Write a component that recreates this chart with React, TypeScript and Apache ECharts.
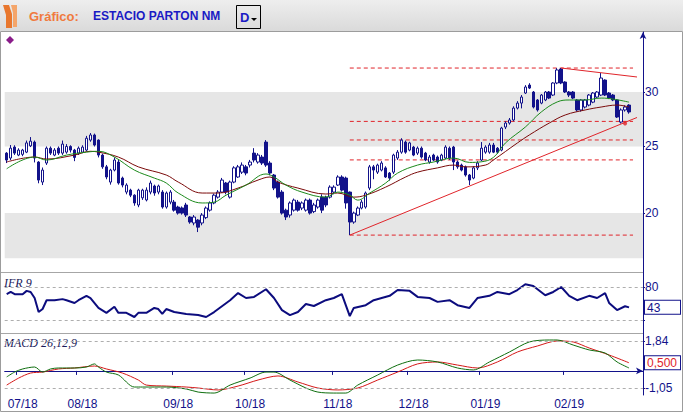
import React, { useEffect, useRef } from "react";
import * as echarts from "echarts";

// ---------- data ----------
const OPEN = [24.45,24.05,24.95,24.29,24.35,24.53,25.05,25.37,23.73,22.19,23.65,24.86,24.29,24.86,24.45,24.53,25.0,24.7,24.45,24.53,24.7,25.54,25.98,25.54,24.29,23.35,22.19,23.1,23.73,22.49,21.46,21.6,21.24,20.55,21.05,20.9,21.46,21.9,21.46,21.46,20.41,20.75,20.75,20.41,20.35,20.55,19.74,19.35,19.54,19.35,19.7,20.2,20.69,21.1,21.46,22.12,21.1,22.19,22.57,22.94,23.35,23.49,24.45,23.73,24.13,25.37,23.65,22.72,22.19,21.46,20.2,19.87,20.2,20.75,20.34,20.2,20.89,20.1,20.41,21.1,21.1,21.1,21.46,21.97,22.57,22.49,21.46,19.41,19.87,20.34,20.41,21.75,23.35,22.94,23.1,23.27,22.87,22.94,24.05,24.53,25.37,24.7,24.95,24.45,24.86,24.45,23.73,24.29,24.13,23.89,24.05,24.86,24.95,23.73,23.49,23.35,22.72,22.49,23.27,23.89,24.53,24.53,25.12,24.86,24.7,26.68,27.04,27.32,28.43,28.91,29.9,30.71,30.0,29.21,28.91,29.21,30.0,29.7,30.92,32.4,31.02,30.0,30.0,29.21,28.25,28.53,28.72,29.0,29.5,29.7,31.23,29.9,29.7,29.21,27.13,28.25,28.72];
const CLOSE = [23.89,24.86,24.45,24.7,24.7,25.3,25.45,24.05,22.34,23.1,24.86,24.45,24.7,24.45,25.2,25.0,24.7,24.1,24.86,24.95,25.7,25.98,25.12,24.29,23.35,22.57,23.1,23.89,22.12,21.97,21.97,21.24,20.69,21.6,21.6,21.6,22.12,21.39,21.9,20.41,21.39,21.46,20.2,20.0,20.0,19.87,19.41,19.74,19.08,19.87,20.34,20.69,21.24,21.46,22.34,21.46,22.19,23.27,23.35,23.49,22.87,23.73,23.89,24.29,23.65,23.49,22.87,21.75,21.1,20.0,19.74,20.69,20.89,20.2,20.69,20.89,20.0,20.55,20.89,20.2,20.55,21.82,21.82,22.57,21.6,20.69,19.41,20.0,20.34,20.75,21.39,23.35,23.1,23.49,23.65,22.57,22.49,24.29,24.53,25.54,24.53,25.3,24.29,24.86,24.13,23.89,24.13,23.89,23.73,24.29,24.95,24.05,23.73,23.35,23.1,22.72,22.34,23.27,23.65,24.86,24.95,25.12,24.53,24.53,26.59,27.04,27.32,28.43,28.91,29.5,30.51,30.4,28.53,28.25,29.7,30.0,29.4,30.92,32.3,30.92,30.0,29.7,29.4,28.25,29.21,29.21,29.7,29.9,30.0,31.44,29.7,29.4,29.21,27.59,28.25,28.53,28.06];
const HIGH = [24.53,25.12,25.1,24.85,24.8,25.5,25.8,25.5,23.8,23.3,25.0,25.0,24.86,25.0,25.5,25.2,25.1,24.8,25.0,25.1,25.9,26.15,26.1,25.6,24.4,23.5,23.2,24.1,23.9,22.6,22.1,21.7,21.3,21.7,21.7,21.8,22.3,22.0,22.0,21.6,21.5,21.6,20.9,20.5,20.45,20.7,19.8,19.87,19.6,20.0,20.45,20.8,21.35,21.6,22.5,22.2,22.3,23.4,23.5,23.7,23.5,23.9,24.86,24.45,24.3,25.54,23.8,22.8,22.3,21.6,20.3,20.8,21.0,20.9,20.8,21.0,21.0,20.7,21.0,21.3,21.2,21.95,21.95,22.7,22.7,22.6,21.5,20.1,20.45,20.9,21.5,23.5,23.5,23.6,23.8,23.4,22.95,24.4,24.7,25.7,25.5,25.4,25.05,25.0,25.0,24.55,24.3,24.4,24.25,24.4,25.1,25.0,25.05,23.85,23.6,23.45,22.8,23.4,23.8,25.37,25.1,25.3,25.3,24.95,26.7,27.2,27.5,28.6,29.1,29.7,30.7,30.9,30.1,29.3,29.8,30.1,30.1,31.0,32.5,32.51,31.1,30.1,30.1,29.3,29.3,29.3,29.8,30.0,30.1,31.97,31.3,30.0,29.8,29.3,28.4,28.7,28.8];
const LOW = [23.65,23.89,24.3,24.2,24.2,24.45,24.95,23.7,22.1,21.97,23.5,24.3,24.2,24.3,24.3,24.4,24.5,23.8,24.3,24.45,24.6,25.4,25.0,24.1,23.2,22.4,22.0,23.0,22.0,21.8,21.3,21.1,20.5,20.4,20.9,20.8,21.3,21.2,21.3,20.3,20.3,20.6,20.1,19.9,19.9,19.74,19.3,19.2,18.77,19.2,19.6,20.1,20.6,21.0,21.4,21.3,21.0,22.1,22.5,22.8,22.7,23.3,23.7,23.6,23.5,23.35,22.7,21.6,21.0,19.9,19.54,19.7,20.1,20.1,20.2,20.1,19.9,20.0,20.3,20.0,20.4,21.0,21.3,21.9,21.5,20.3,18.58,19.3,19.8,20.25,20.3,21.6,22.4,22.8,23.0,22.5,22.3,22.8,23.9,24.4,24.4,24.6,24.2,24.3,24.0,23.8,23.6,23.8,23.6,23.8,23.95,23.9,23.1,23.2,23.0,22.6,21.97,22.4,23.1,23.8,24.4,24.4,24.45,24.4,24.6,26.5,26.9,27.2,28.3,28.4,29.8,30.3,28.4,28.1,28.8,29.1,29.3,29.6,30.8,30.8,29.9,29.5,29.3,28.1,28.1,28.4,28.6,28.9,29.4,29.6,29.6,29.3,29.1,27.5,27.0,28.1,27.9];

const MA_FAST: [number, number][] = [[0,23.2],[7,24.13],[10,23.89],[15,24.29],[20,24.53],[23,24.6],[27,24.13],[32,23.1],[37,22.49],[40,22.12],[43,21.39],[49,20.69],[52,20.75],[55,21.24],[60,21.97],[65,22.8],[67,22.57],[70,21.97],[74,21.46],[80,21.1],[83,21.46],[86,21.24],[88,20.89],[91,21.39],[95,22.12],[98,22.87],[103,23.49],[107,23.73],[112,24.05],[116,23.7],[119,23.75],[122,24.1],[125,25.29],[130,26.68],[134,28.06],[138,29.02],[141,29.21],[145,29.21],[149,29.4],[152,29.3],[156,29.0]];
const MA_SLOW: [number, number][] = [[0,23.73],[7,24.13],[10,23.97],[17,24.29],[21,24.6],[23,24.53],[28,24.13],[33,23.35],[40,22.72],[43,22.19],[49,21.39],[53,21.39],[58,21.75],[63,22.34],[66,22.57],[68,22.19],[73,21.75],[80,21.32],[83,21.39],[87,21.1],[90,21.24],[95,21.82],[100,22.57],[103,22.94],[108,23.27],[112,23.49],[115,23.35],[120,23.49],[122,23.89],[128,25.29],[131,25.98],[136,27.04],[140,27.78],[145,28.25],[149,28.53],[153,28.72],[156,28.53]];

const IFR: [number, number][] = [[0,67],[1,71],[2,67],[4,67],[5,73],[6,71],[7,60],[8,34.5],[9,40],[10,56],[12,56],[14,58],[15,56],[17,51],[18,56],[20,64],[21,60],[23,42],[25,33],[27,44],[28,33],[30,33],[32,25.5],[33,33],[35,33],[37,42],[38,40],[39,31],[40,40],[42,34.5],[45,31],[48,29],[50,25.5],[52,34.5],[56,56],[58,69],[60,60],[62,62],[65,76],[67,60],[69,38],[71,29],[73,34.5],[75,49],[77,45.5],[80,56],[82,60],[84,67],[86,27],[87,42],[90,47],[92,56],[96,64],[98,74.5],[101,73],[103,62],[106,60],[108,53],[111,56],[113,47],[116,42],[118,60],[121,64],[123,71],[126,67],[128,74.5],[130,85],[132,82],[135,65],[137,71],[139,80],[141,64],[143,56],[146,64],[148,60],[150,69],[151,51],[153,38],[155,45],[156,43]];

const MACD_LINE: [number, number][] = [[0,-0.37],[2,-0.07],[4,0.12],[7,0.24],[9,-0.07],[11,0.12],[13,0.18],[17,0.18],[20,0.24],[22,0.43],[23,0.24],[25,-0.07],[28,-0.25],[32,-0.99],[34,-0.99],[40,-0.99],[45,-1.11],[48,-1.3],[52,-1.36],[56,-0.87],[61,-0.44],[65,-0.07],[67,-0.07],[71,-0.56],[75,-1.05],[78,-1.3],[82,-1.36],[85,-1.36],[88,-0.87],[93,-0.25],[98,0.36],[103,0.67],[108,0.55],[113,0.18],[117,0.06],[121,0.55],[126,1.16],[131,1.78],[136,1.9],[138,1.9],[142,1.59],[146,1.29],[150,1.1],[153,0.55],[156,0.18]];
const MACD_SIGNAL: [number, number][] = [[0,-0.87],[3,-0.44],[6,-0.13],[9,-0.07],[13,0.12],[17,0.18],[22,0.3],[25,0.12],[29,-0.13],[33,-0.56],[35,-0.87],[40,-0.93],[45,-0.99],[48,-1.05],[53,-1.17],[58,-0.93],[63,-0.56],[68,-0.31],[73,-0.68],[78,-1.05],[83,-1.17],[88,-1.05],[93,-0.56],[98,-0.07],[103,0.43],[108,0.55],[113,0.36],[118,0.18],[123,0.55],[128,1.16],[133,1.53],[138,1.84],[142,1.78],[146,1.41],[151,0.98],[156,0.5]];

const FIB_LEVELS = [32.51, 27.19, 25.55, 23.9, 18.58];
const FIB_RANGE = [86, 157];
const SUPPORT_LINE: [number, number][] = [[86, 18.58], [158, 27.55]];
const RESIST_LINE: [number, number][] = [[139, 32.51], [158, 31.55]];
const TOUCH_POINTS: [number, number][] = [[155, 27.0]];

const PRICE_TICKS = [20, 25, 30];
const PRICE_BANDS: [number, number][] = [[17.2, 20], [25, 30]];
const PRICE_RANGE = [16.42, 36.68];
const IFR_LEVELS = [20, 80];
const IFR_RANGE = [-3.6, 107.3];
const MACD_LEVELS = [1.84, -1.05];
const MACD_RANGE = [-1.48, 2.33];

const CATEGORY_COUNT = 160;
const MONTH_TICKS = [3, 18, 42, 60, 82, 101, 119, 140];
const MONTH_LABELS = ["07/18", "08/18", "09/18", "10/18", "11/18", "12/18", "01/19", "02/19"];

// ---------- styling ----------
const NAVY = "#12128A";
const RED = "#E0242A";
const GREEN = "#1C8A1C";
const MAROON = "#7A0A0A";
const FONT = "Liberation Sans, Arial, sans-serif";

const lg = (v: number) => Math.log10(v);
const fmtComma = (v: number, d: number) => v.toFixed(d).replace(".", ",");

function buildOption() {
  const cats = Array.from({ length: CATEGORY_COUNT }, (_, i) => String(i));
  const candle = OPEN.map((o, i) => [lg(o), lg(CLOSE[i]), lg(LOW[i]), lg(HIGH[i])]);
  const logPairs = (a: [number, number][]) => a.map(([i, v]) => [i, lg(v)]);
  const tickSet = new Set(MONTH_TICKS);
  const labelMap = new Map(MONTH_TICKS.map((t, k) => [t + 1, MONTH_LABELS[k]]));
  const ifrLast = IFR[IFR.length - 1][1];
  const sigLast = MACD_SIGNAL[MACD_SIGNAL.length - 1][1];

  const grids = [
    { left: 4.7, right: 40, top: 32, height: 240 },
    { left: 4.7, right: 40, top: 272, height: 61 },
    { left: 4.7, right: 40, top: 333, height: 62 },
  ].map((g) => ({ ...g, containLabel: false, outerBoundsMode: "none" }));

  const hiddenX = (gi: number) => ({
    type: "category", gridIndex: gi, data: cats, boundaryGap: true,
    axisLine: { show: false }, axisTick: { show: false }, axisLabel: { show: false }, splitLine: { show: false },
  });

  const refLines = (vals: number[]) => ({
    silent: true, symbol: ["none", "none"], label: { show: false },
    lineStyle: { type: [3, 3], color: "#AEAEAE", width: 1 },
    data: vals.map((v) => ({ yAxis: v })),
  });

  const plainLine = (data: any[], x: number, color: string, width: number, extra: any = {}) => ({
    type: "line", xAxisIndex: x, yAxisIndex: x, data, symbol: "none", showSymbol: false,
    lineStyle: { color, width }, silent: true, ...extra,
  });

  return {
    animation: false,
    backgroundColor: "#FFFFFF",
    grid: grids,
    xAxis: [
      hiddenX(0),
      hiddenX(1),
      {
        type: "category", gridIndex: 2, data: cats, boundaryGap: true,
        axisLine: { show: true, lineStyle: { color: NAVY, width: 1 }, symbol: ["none", "arrow"], symbolSize: [5, 7] },
        axisTick: { show: true, interval: (i: number) => tickSet.has(i), length: 4, lineStyle: { color: NAVY } },
        axisLabel: {
          show: true, interval: (i: number) => labelMap.has(i), formatter: (_v: string, i: number) => labelMap.get(i) || "",
          color: NAVY, fontSize: 12, fontFamily: FONT, margin: 3,
        },
        splitLine: { show: false },
      },
    ],
    yAxis: [
      {
        type: "value", gridIndex: 0, position: "right", min: lg(PRICE_RANGE[0]), max: lg(PRICE_RANGE[1]),
        axisLine: { show: true, lineStyle: { color: NAVY }, symbol: ["none", "arrow"], symbolSize: [5, 7] },
        axisTick: { show: true, customValues: PRICE_TICKS.map(lg), length: 2, lineStyle: { color: NAVY } },
        axisLabel: { show: true, customValues: PRICE_TICKS.map(lg), formatter: (v: number) => String(Math.round(Math.pow(10, v))), color: NAVY, fontSize: 12, fontFamily: FONT, margin: 2 },
        splitLine: { show: false },
      },
      {
        type: "value", gridIndex: 1, position: "right", min: IFR_RANGE[0], max: IFR_RANGE[1],
        axisLine: { show: true, lineStyle: { color: NAVY } },
        axisTick: { show: true, customValues: IFR_LEVELS, length: 2, lineStyle: { color: NAVY } },
        axisLabel: {
          show: true, customValues: [ifrLast, IFR_LEVELS[1]], margin: 2, fontFamily: FONT, fontSize: 12,
          formatter: (v: number) => (Math.abs(v - ifrLast) < 1e-6 ? `{box|${Math.round(v)}}` : `{n|${Math.round(v)}}`),
          rich: {
            n: { color: NAVY, fontSize: 12, fontFamily: FONT },
            box: { color: NAVY, fontSize: 12, fontFamily: FONT, borderColor: NAVY, borderWidth: 1, width: 31, height: 12, padding: [1, 2, 0, 2], backgroundColor: "#fff" },
          },
        },
        splitLine: { show: false },
      },
      {
        type: "value", gridIndex: 2, position: "right", min: MACD_RANGE[0], max: MACD_RANGE[1],
        axisLine: { show: true, lineStyle: { color: NAVY } },
        axisTick: { show: true, customValues: [MACD_LEVELS[0], sigLast, MACD_LEVELS[1]], length: 2, lineStyle: { color: NAVY } },
        axisLabel: {
          show: true, customValues: [MACD_LEVELS[0], sigLast, MACD_LEVELS[1]], margin: 2, fontFamily: FONT, fontSize: 12,
          formatter: (v: number) => (Math.abs(v - sigLast) < 1e-6 ? `{box|${fmtComma(v, 3)}}` : `{n|${fmtComma(v, 2)}}`),
          rich: {
            n: { color: NAVY, fontSize: 12, fontFamily: FONT },
            box: { color: RED, fontSize: 12, fontFamily: FONT, borderColor: NAVY, borderWidth: 1, width: 31, height: 12, padding: [1, 2, 0, 2], backgroundColor: "#fff" },
          },
        },
        splitLine: { show: false },
      },
    ],
    series: [
      {
        type: "line", xAxisIndex: 0, yAxisIndex: 0, data: [], symbol: "none", silent: true, z: 0,
        markArea: {
          silent: true, itemStyle: { color: "#E6E6E6" },
          data: PRICE_BANDS.map(([a, b]) => [{ yAxis: lg(a) }, { yAxis: lg(b) }]),
        },
      },
      ...FIB_LEVELS.map((v) => plainLine([[FIB_RANGE[0], lg(v)], [FIB_RANGE[1], lg(v)]], 0, RED, 1, { lineStyle: { color: RED, width: 1, type: [4, 3] }, z: 2 })),
      {
        type: "candlestick", xAxisIndex: 0, yAxisIndex: 0, data: candle, barWidth: 3, silent: true, z: 3,
        itemStyle: { color: "#FFFFFF", color0: NAVY, borderColor: NAVY, borderColor0: NAVY, borderWidth: 1 },
      },
      plainLine(logPairs(MA_SLOW), 0, MAROON, 1, { smooth: 0.4, z: 4 }),
      plainLine(logPairs(MA_FAST), 0, GREEN, 1, { smooth: 0.4, z: 4 }),
      plainLine(logPairs(SUPPORT_LINE), 0, RED, 1, { z: 5 }),
      plainLine(logPairs(RESIST_LINE), 0, RED, 1, { z: 5 }),
      {
        type: "scatter", xAxisIndex: 0, yAxisIndex: 0, data: logPairs(TOUCH_POINTS), symbol: "circle", symbolSize: 4,
        itemStyle: { color: RED }, silent: true, z: 6,
      },
      plainLine(IFR, 1, "#0C0C7E", 2, { markLine: refLines(IFR_LEVELS), z: 3 }),
      plainLine(MACD_SIGNAL, 2, "#D41818", 1, { smooth: 0.3, markLine: refLines(MACD_LEVELS), z: 3 }),
      plainLine(MACD_LINE, 2, "#0E6E0E", 1, { smooth: 0.3, z: 4 }),
    ],
    graphic: [
      {
        type: "rect", left: 0, top: 0, shape: { width: 683, height: 31 }, silent: true,
        style: { fill: new echarts.graphic.LinearGradient(0, 0, 0, 1, [{ offset: 0, color: "#EEEEEE" }, { offset: 1, color: "#DADADA" }]) },
      },
      { type: "polygon", shape: { points: [[3, 5], [9, 5], [12, 14], [12, 28], [6, 28], [6, 15]] }, style: { fill: "#E8772E" }, silent: true },
      { type: "polygon", shape: { points: [[11, 5], [17, 5], [17, 27], [13, 27], [13, 13]] }, style: { fill: "#F4A56A" }, silent: true },
      { type: "text", x: 29, y: 16, style: { text: "Gráfico:", fill: "#F07A3E", font: `bold 13px ${FONT}`, verticalAlign: "middle" }, silent: true },
      { type: "text", x: 93, y: 16, style: { text: "ESTACIO PARTON NM", fill: "#1A1AC4", font: `bold 12px ${FONT}`, verticalAlign: "middle" }, silent: true },
      { type: "rect", shape: { x: 236.5, y: 5.5, width: 24, height: 23 }, style: { fill: "none", stroke: "#000000", lineWidth: 1 }, silent: true },
      { type: "text", x: 240, y: 17, style: { text: "D", fill: "#1A1AC4", font: `bold 13px ${FONT}`, verticalAlign: "middle" }, silent: true },
      { type: "polygon", shape: { points: [[251, 18], [257, 18], [254, 21]] }, style: { fill: "#000000" }, silent: true },
      { type: "polygon", shape: { points: [[10, 36], [14, 40], [10, 44], [6, 40]] }, style: { fill: "#8A1C8A" }, silent: true },
      { type: "line", shape: { x1: 0, y1: 272.5, x2: 643, y2: 272.5 }, style: { stroke: "#A6A6A6", lineWidth: 1 }, silent: true },
      { type: "line", shape: { x1: 0, y1: 333.5, x2: 643, y2: 333.5 }, style: { stroke: "#A6A6A6", lineWidth: 1 }, silent: true },
      { type: "text", x: 4, y: 283, style: { text: "IFR 9", fill: "#1A1A5A", font: `italic 12px "Liberation Serif", serif`, verticalAlign: "middle" }, silent: true },
      { type: "text", x: 4, y: 343, style: { text: "MACD 26,12,9", fill: "#1A1A5A", font: `italic 12px "Liberation Serif", serif`, verticalAlign: "middle" }, silent: true },
      { type: "rect", shape: { x: 0.5, y: 31.5, width: 682, height: 380 }, style: { fill: "none", stroke: "#9C9C9C", lineWidth: 1 }, silent: true },
    ],
  };
}

export default function App() {
  const ref = useRef<HTMLDivElement>(null);
  useEffect(() => {
    if (!ref.current) return;
    const chart = echarts.init(ref.current, undefined, { renderer: "svg" });
    chart.setOption(buildOption() as any);
    return () => chart.dispose();
  }, []);
  return (
    <div style={{ position: "fixed", left: 0, top: 0, width: 683, height: 412, background: "#fff" }}>
      <div ref={ref} style={{ width: 683, height: 412 }} />
    </div>
  );
}
